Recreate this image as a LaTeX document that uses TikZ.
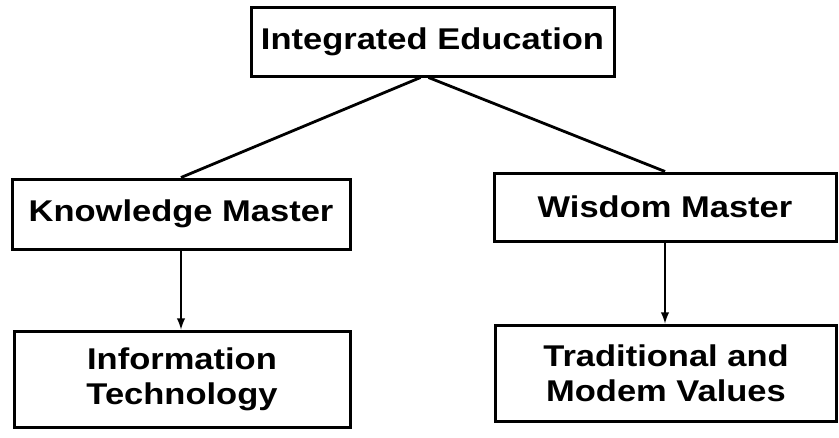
\documentclass[tikz,border=0pt]{standalone}
\usepackage{fontspec}
\setmainfont{Liberation Sans}[FakeStretch=1.15]
\tikzset{>=latex}
\usetikzlibrary{calc}

\begin{document}
\begin{tikzpicture}[x=1pt, y=-1pt]
            \tikzset{box/.style={draw, line width=3pt, inner sep=0pt, align=center, font=\fontsize{30}{35}\selectfont\bfseries}}
            \tikzset{link/.style={line width=2.8pt}}
            \useasboundingbox (0,0) rectangle (839,437);

            \node[box, minimum width=363pt, minimum height=69pt] (top) at (432.5, 41.5) {Integrated Education};
            \node[box, minimum width=338pt, minimum height=70pt] (km) at (181, 214) {Knowledge Master};
            \node[box, minimum width=342pt, minimum height=68pt] (wm) at (665, 207) {Wisdom Master};
            \node[box, minimum width=336pt, minimum height=96pt] (it) at (182, 379) {Information\\Technology};
            \node[box, minimum width=341pt, minimum height=96pt] (tmv) at (666, 373) {Traditional and\\Modem Values};

            \draw[link] ($(top.south)+(-12,0)$) -- (km.north);
            \draw[link] ($(top.south)+(-4,0)$) -- (wm.north);
            \draw[link, ->] (km.south) -- (km.south |- it.north);
            \draw[link, ->] (wm.south) -- (wm.south |- tmv.north);
        \end{tikzpicture}
\end{document}
